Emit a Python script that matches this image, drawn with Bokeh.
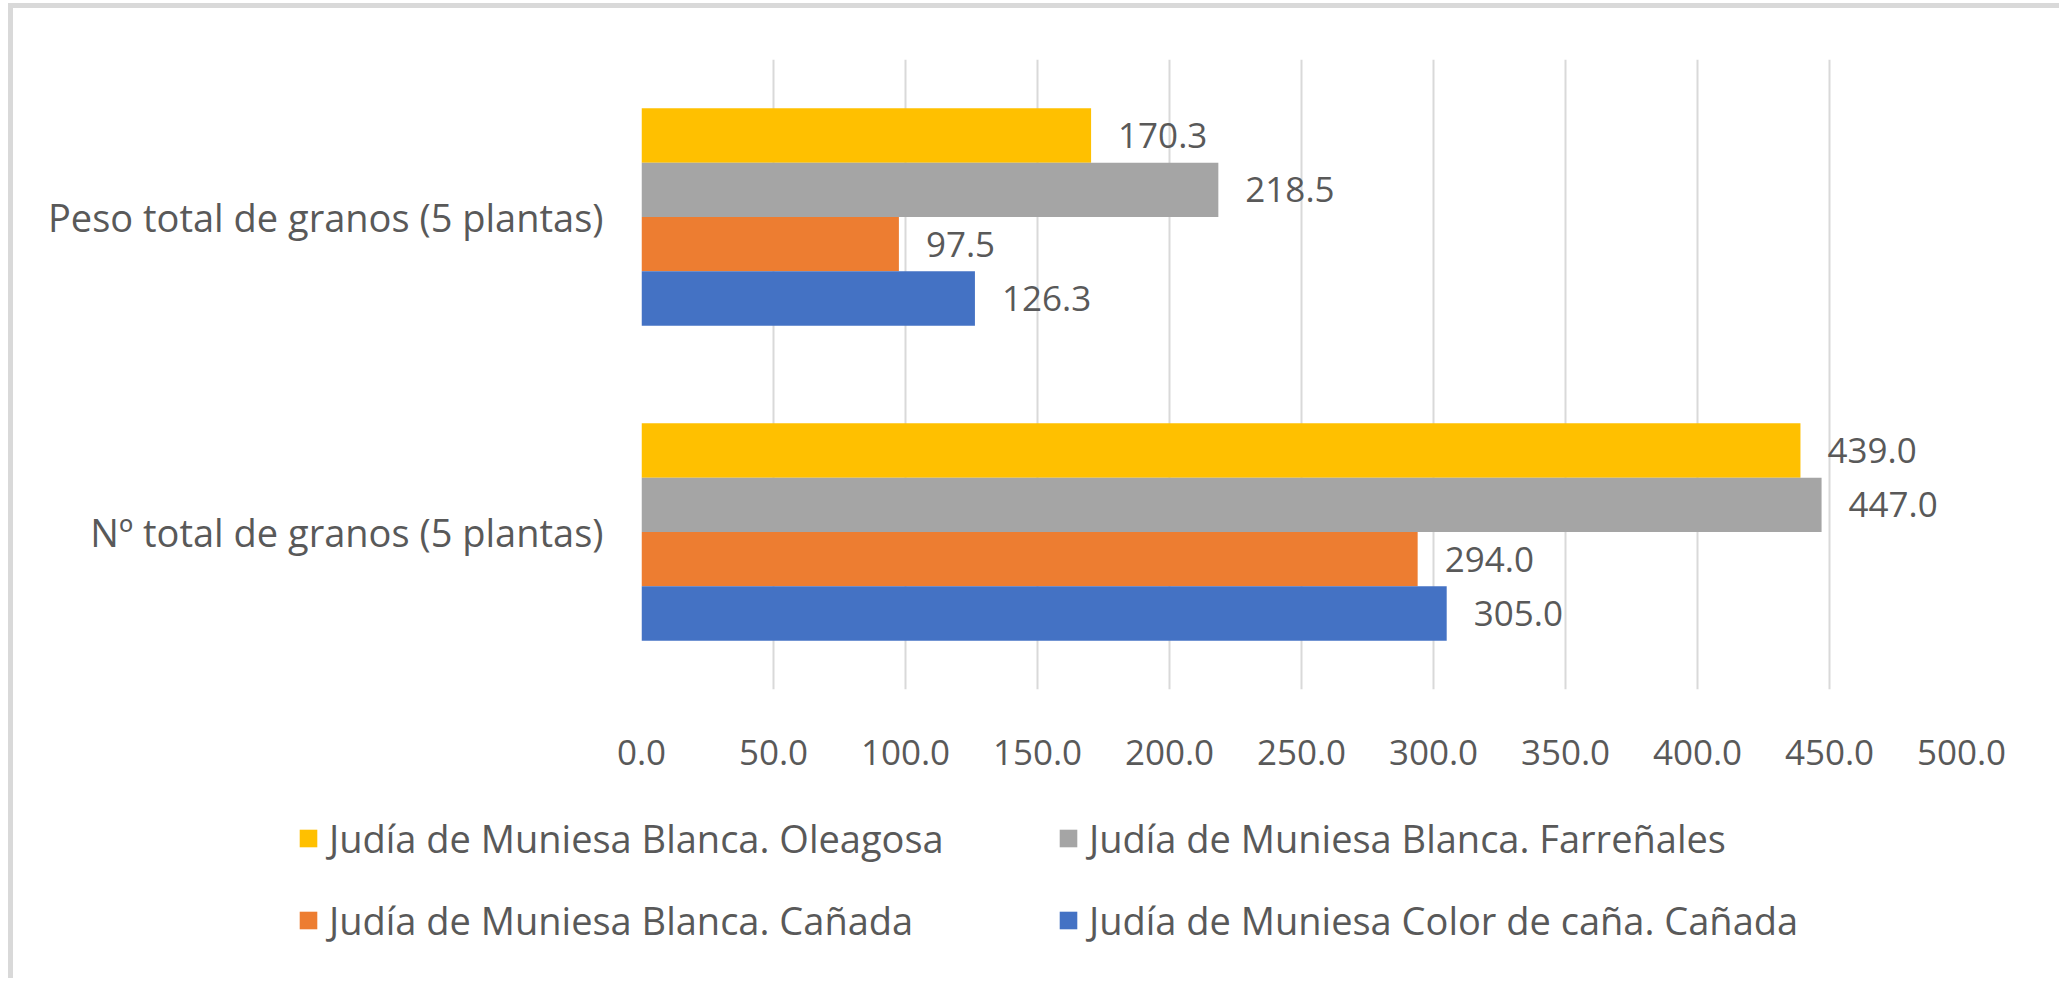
from bokeh.plotting import figure
from bokeh.layouts import column
from bokeh.models import (ColumnDataSource, FactorRange, Range1d, FixedTicker,
                          NumeralTickFormatter, Legend, LegendItem)
from bokeh.transform import dodge
from bokeh.core.properties import value
from bokeh.embed import file_html
from bokeh.resources import INLINE

# ---------------- data ----------------
categories = ["Nº total de granos (5 plantas)", "Peso total de granos (5 plantas)"]
series_names = [
    "Judía de Muniesa Blanca. Oleagosa",
    "Judía de Muniesa Blanca. Farreñales",
    "Judía de Muniesa Blanca. Cañada",
    "Judía de Muniesa Color de caña. Cañada",
]
oleagosa = [439.0, 170.3]
farrenales = [447.0, 218.5]
canada_blanca = [294.0, 97.5]
color_cana = [305.0, 126.3]
x_ticks = [0, 50, 100, 150, 200, 250, 300, 350, 400, 450, 500]

# ---------------- style ----------------
colors = ["#FFC000", "#A5A5A5", "#ED7D31", "#4472C4"]
offsets = [0.2588, 0.0863, -0.0863, -0.2588]
BAR_H = 0.1725
FONT = "Open Sans"
TXT = "#595959"
GRID = "#D9D9D9"

src = ColumnDataSource(dict(
    cat=categories,
    s0=oleagosa, s1=farrenales, s2=canada_blanca, s3=color_cana,
    l0=[f"{v:.1f}" for v in oleagosa],
    l1=[f"{v:.1f}" for v in farrenales],
    l2=[f"{v:.1f}" for v in canada_blanca],
    l3=[f"{v:.1f}" for v in color_cana],
))

# ---------------- main chart ----------------
p = figure(width=2051, height=782, output_backend="svg", toolbar_location=None,
           y_range=FactorRange(factors=categories, range_padding=0),
           x_range=Range1d(0, 500),
           min_border_left=628, min_border_right=103,
           min_border_top=51, min_border_bottom=101)
p.frame_align = False
p.outline_line_color = None
p.background_fill_color = "white"
p.border_fill_color = "white"
p.styles = {"border-top": "5px solid #D9D9D9", "border-left": "5px solid #D9D9D9",
            "margin-left": "8px", "margin-top": "3px"}

renderers = []
for i in range(4):
    renderers.append(p.hbar(y=dodge("cat", offsets[i], range=p.y_range), right=f"s{i}", left=0,
                            height=BAR_H, source=src, fill_color=colors[i], line_color=None))
    p.text(x=f"s{i}", y=dodge("cat", offsets[i], range=p.y_range), text=f"l{i}",
           source=src, x_offset=27, text_baseline="middle", text_align="left",
           text_font=value(FONT), text_font_size="35px", text_color=TXT)

p.xaxis.ticker = FixedTicker(ticks=x_ticks)
p.xaxis.formatter = NumeralTickFormatter(format="0.0")
p.xaxis.axis_line_color = None
p.xaxis.major_tick_line_color = None
p.xaxis.minor_tick_line_color = None
p.xaxis.major_label_text_font = FONT
p.xaxis.major_label_text_font_size = "35px"
p.xaxis.major_label_text_color = TXT
p.xaxis.major_label_standoff = 44

p.yaxis.axis_line_color = None
p.yaxis.major_tick_line_color = None
p.yaxis.minor_tick_line_color = None
p.yaxis.major_label_text_font = FONT
p.yaxis.major_label_text_font_size = "38px"
p.yaxis.major_label_text_color = TXT
p.yaxis.major_label_standoff = 32

p.xgrid.grid_line_color = GRID
p.xgrid.grid_line_width = 2
p.ygrid.grid_line_color = None

# ---------------- legend strip ----------------
pl = figure(width=2051, height=193, output_backend="svg", toolbar_location=None,
            x_range=Range1d(0, 1), y_range=Range1d(0, 1),
            x_axis_location=None, y_axis_location=None,
            min_border_left=0, min_border_right=0, min_border_top=0, min_border_bottom=0)
pl.frame_align = False
pl.outline_line_color = None
pl.xgrid.visible = False
pl.ygrid.visible = False
pl.border_fill_color = "white"
pl.background_fill_color = "white"
pl.styles = {"border-left": "5px solid #D9D9D9", "margin-left": "8px"}

# legend swatches: hidden proxies of the series (same colours)
swatches = []
for i in range(4):
    r = pl.hbar(y=dodge("cat", 0, range=p.y_range), right=f"s{i}", left=0,
                height=0.1, source=src, fill_color=colors[i], line_color=None)
    r.visible = False
    swatches.append(r)

def make_legend(idxs, x):
    lg = Legend(items=[LegendItem(label=series_names[i], renderers=[swatches[i]]) for i in idxs],
                location=(x, 32), orientation="vertical",
                label_text_font=FONT, label_text_font_size="38px", label_text_color=TXT,
                glyph_width=22, glyph_height=22, label_standoff=10,
                label_height=52, spacing=30, padding=0, margin=0,
                inactive_fill_alpha=0, click_policy="none",
                border_line_color=None, background_fill_alpha=0)
    pl.add_layout(lg, "center")

make_legend([0, 2], 284)
make_legend([1, 3], 1044)

layout = column(p, pl, spacing=0)

open("out.html", "w").write(file_html(layout, INLINE))
